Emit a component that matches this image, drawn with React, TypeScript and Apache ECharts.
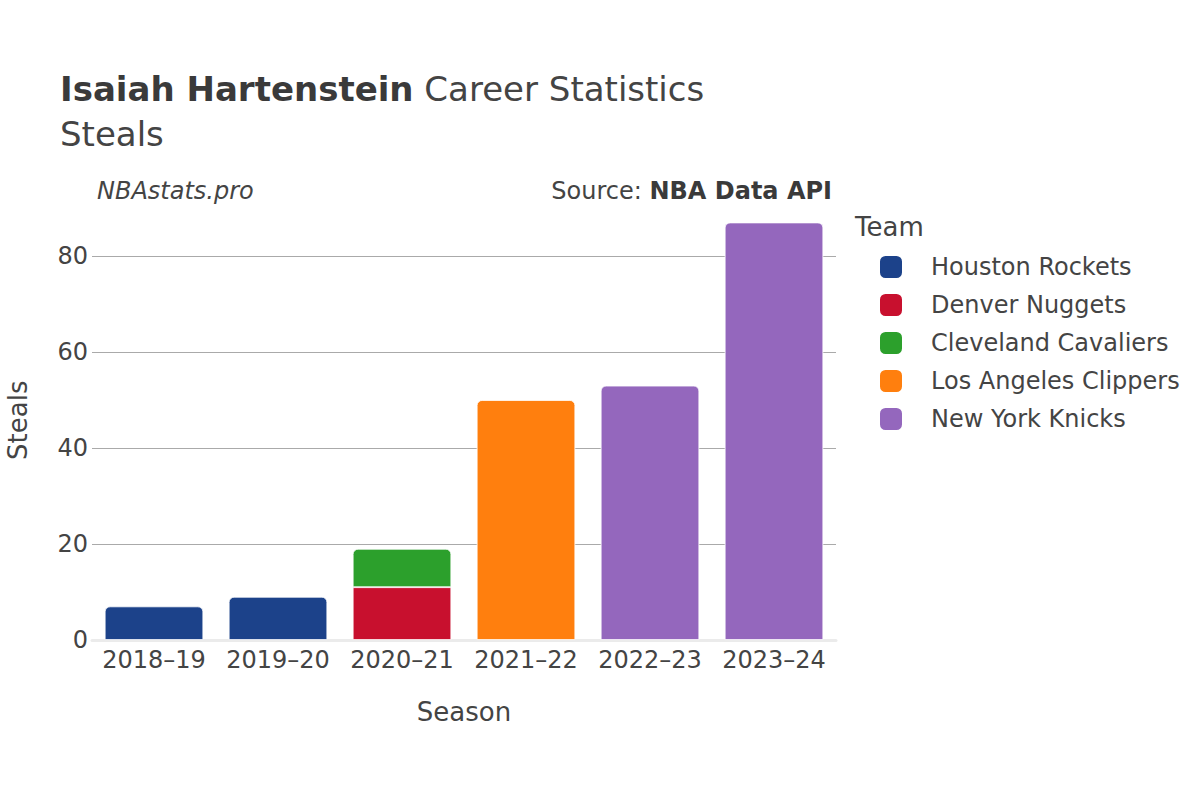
import React, { useEffect, useRef } from "react";
import * as echarts from "echarts";

const seasons = ["2018–19", "2019–20", "2020–21", "2021–22", "2022–23", "2023–24"];
const teams = ["Houston Rockets", "Denver Nuggets", "Cleveland Cavaliers", "Los Angeles Clippers", "New York Knicks"];
const teamColors = ["#1c428a", "#c8102e", "#2ca02c", "#ff7f0e", "#9467bd"];
const houston = [7, 9, null, null, null, null];
const denver = [null, null, 11, null, null, null];
const cleveland = [null, null, 8, null, null, null];
const clippers = [null, null, null, 50, null, null];
const knicks = [null, null, null, null, 53, 87];
const teamValues = [houston, denver, cleveland, clippers, knicks];
const yTicks = [0, 20, 40, 60, 80];

const FONT = "DejaVu Sans";
const TXT = "#444";

export default function App() {
  const ref = useRef<HTMLDivElement>(null);
  useEffect(() => {
    document.body.style.margin = "0";
    const chart = echarts.init(ref.current!, null, { renderer: "svg" });
    const series = teams.map((name, ti) => ({
      name,
      type: "bar",
      stack: "total",
      barWidth: "79.5%",
      itemStyle: { color: teamColors[ti] },
      data: teamValues[ti].map((v, si) => {
        if (v == null) return null;
        let isTop = true;
        for (let k = ti + 1; k < teamValues.length; k++) {
          if (teamValues[k][si] != null) isTop = false;
        }
        return {
          value: v,
          itemStyle: {
            borderRadius: isTop ? [5, 5, 0, 0] : 0,
            borderColor: "#fff",
            borderWidth: 0.8,
          },
        };
      }),
    }));
    chart.setOption({
      animation: false,
      textStyle: { fontFamily: FONT },
      title: {
        left: 60,
        top: 66,
        padding: 0,
        text: "{b|Isaiah Hartenstein}{n| Career Statistics}\n{n|Steals}",
        textStyle: {
          fontWeight: "normal",
          rich: {
            b: { fontFamily: FONT, fontWeight: "bold", fontSize: 34, color: "#3a3a3a", lineHeight: 45 },
            n: { fontFamily: FONT, fontWeight: "normal", fontSize: 34, color: "#444", lineHeight: 45 },
          },
        },
      },
      graphic: [
        {
          type: "text",
          left: 97,
          top: 179,
          style: { text: "NBAstats.pro", fontFamily: FONT, fontStyle: "italic", fontSize: 24, fill: TXT },
        },
        {
          type: "text",
          right: 368,
          top: 179,
          style: {
            text: "{n|Source: }{b|NBA Data API}",
            rich: {
              n: { fontFamily: FONT, fontSize: 24, fill: TXT },
              b: { fontFamily: FONT, fontSize: 24, fontWeight: "bold", fill: "#3a3a3a" },
            },
          },
        },
        {
          type: "text",
          left: 855,
          top: 214,
          style: { text: "Team", fontFamily: FONT, fontSize: 26, fill: TXT },
        },
      ],
      legend: {
        orient: "vertical",
        left: 875,
        top: 250,
        itemWidth: 22,
        itemHeight: 22,
        itemGap: 14,
        icon: "roundRect",
        data: teams,
        textStyle: { fontFamily: FONT, fontSize: 24, color: TXT, padding: [0, 0, 0, 24], lineHeight: 24 },
      },
      grid: { left: 92, right: 364, top: 200.4, bottom: 160, outerBoundsMode: "none", containLabel: false },
      xAxis: {
        type: "category",
        data: seasons,
        name: "Season",
        nameLocation: "middle",
        nameGap: 59,
        nameTextStyle: { fontFamily: FONT, fontSize: 26, color: TXT },
        axisLine: { show: true, lineStyle: { color: "#ebebeb", width: 3 } },
        axisTick: { show: false },
        axisLabel: { interval: 0, fontFamily: FONT, fontSize: 24, color: TXT, margin: 8 },
      },
      yAxis: {
        type: "value",
        min: 0,
        max: 91.6,
        interval: 20,
        name: "Steals",
        nameLocation: "middle",
        nameRotate: 90,
        nameGap: 61,
        nameTextStyle: { fontFamily: FONT, fontSize: 26, color: TXT },
        axisLine: { show: false },
        axisTick: { show: false },
        axisLabel: {
          fontFamily: FONT,
          fontSize: 24,
          color: TXT,
          margin: 4,
          showMaxLabel: false,
          formatter: (v: number) => (yTicks.includes(v) ? String(v) : ""),
        },
        splitLine: {
          show: true,
          showMinLine: false,
          showMaxLine: false,
          lineStyle: { color: "#aaaaaa", width: 1 },
        },
      },
      series,
    });
    return () => chart.dispose();
  }, []);
  return <div ref={ref} style={{ width: 1200, height: 800 }} />;
}
